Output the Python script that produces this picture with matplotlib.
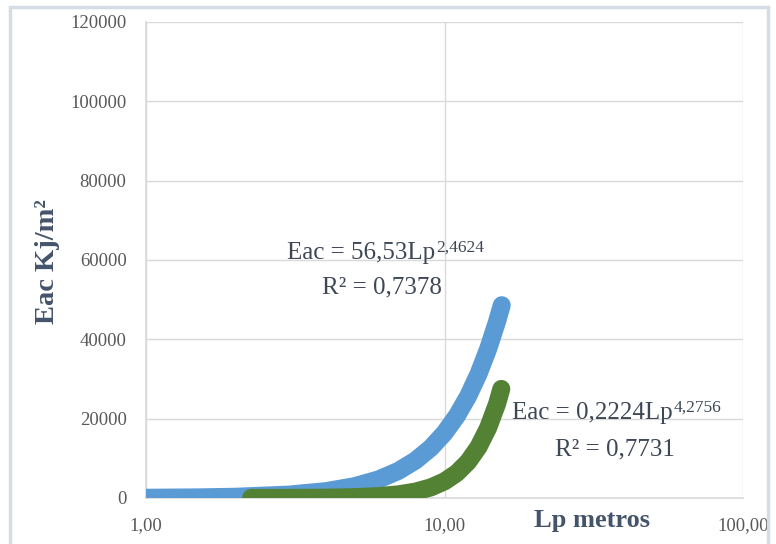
import matplotlib.pyplot as plt
from matplotlib.patches import Rectangle
from matplotlib.ticker import FixedLocator, FuncFormatter

# values
lp_blue = [1.0, 1.5, 2, 3, 4, 5, 6, 7, 8, 9, 10, 11, 12, 13, 14, 15, 15.55]
eac_blue = [57, 153, 312, 846, 1717, 2975, 4660, 6811, 9464, 12644,
            16395, 20723, 25670, 31262, 37553, 44484, 48600]

lp_green = [2.25, 3, 4, 5, 6, 7, 8, 9, 10, 11, 12, 13, 14, 15, 15.5]
eac_green = [7, 24, 83, 217, 472, 913, 1616, 2673, 4195, 6300,
             9139, 12868, 17672, 23730, 27500]

x_ticks = [1, 10, 100]
x_tick_labels = ["1,00", "10,00", "100,00"]
y_ticks = [0, 20000, 40000, 60000, 80000, 100000, 120000]

eq_blue = ("Eac = 56,53Lp", "2,4624", "R² = 0,7378")
eq_green = ("Eac = 0,2224Lp", "4,2756", "R² = 0,7731")

serif = "Liberation Serif"
tick_col = "#595959"
lab_col = "#44546A"
txt_col = "#3E4756"
grid_col = "#D9D9D9"

fig = plt.figure(figsize=(7.76, 5.44), dpi=100)
fig.patches.append(Rectangle((10 / 776, -0.05), 758 / 776, 1.05 - 7 / 544,
                             transform=fig.transFigure, fill=False,
                             edgecolor="#D6DCE5", linewidth=2.5))

ax = fig.add_axes([146 / 776, 1 - 498 / 544, (743 - 146) / 776, (498 - 22) / 544])
ax.set_xscale("log")
ax.set_xlim(1, 100)
ax.set_ylim(0, 120000)

ax.plot(lp_blue, eac_blue, color="#5B9BD5", linewidth=13,
        solid_capstyle="round", solid_joinstyle="round", zorder=3)
ax.plot(lp_green, eac_green, color="#548235", linewidth=13,
        solid_capstyle="round", solid_joinstyle="round", zorder=4)

ax.xaxis.set_major_locator(FixedLocator(x_ticks))
ax.xaxis.set_minor_locator(FixedLocator([]))
ax.xaxis.set_major_formatter(FuncFormatter(lambda v, p: x_tick_labels[x_ticks.index(round(v))]
                                           if round(v) in x_ticks else ""))
ax.yaxis.set_major_locator(FixedLocator(y_ticks))
ax.yaxis.set_major_formatter(FuncFormatter(lambda v, p: f"{int(v)}"))

ax.grid(True, color=grid_col, linewidth=1)
ax.set_axisbelow(True)
for s in ["top", "right"]:
    ax.spines[s].set_visible(False)
for s in ["left", "bottom"]:
    ax.spines[s].set_color(grid_col)
    ax.spines[s].set_linewidth(1.2)

ax.tick_params(length=0, pad=14, labelsize=13.5, labelcolor=tick_col)
for lab in ax.get_xticklabels() + ax.get_yticklabels():
    lab.set_fontfamily(serif)

fig.text(47 / 776, 1 - 262 / 544, "Eac Kj/m²", rotation=90, ha="center", va="center",
         fontsize=20.5, fontweight="bold", color=lab_col, family=serif)
fig.text(592 / 776, 1 - 521 / 544, "Lp metros", ha="center", va="center",
         fontsize=19, fontweight="bold", color=lab_col, family=serif)


def equation(x, y, parts, rx, ry):
    main, sup, r2 = parts
    t = fig.text(x / 776, 1 - y / 544, main, ha="left", va="baseline",
                 fontsize=18, color=txt_col, family=serif)
    ax.annotate(sup, xy=(1, 1), xycoords=t, xytext=(0.5, 1.5), textcoords="offset points",
                ha="left", va="top", fontsize=12.5, color=txt_col, family=serif)
    fig.text(rx / 776, 1 - ry / 544, r2, ha="center", va="baseline",
             fontsize=18, color=txt_col, family=serif)


equation(287, 259, eq_blue, 382, 293)
equation(512, 419, eq_green, 615, 455)

fig.savefig("out.png", dpi=100)
